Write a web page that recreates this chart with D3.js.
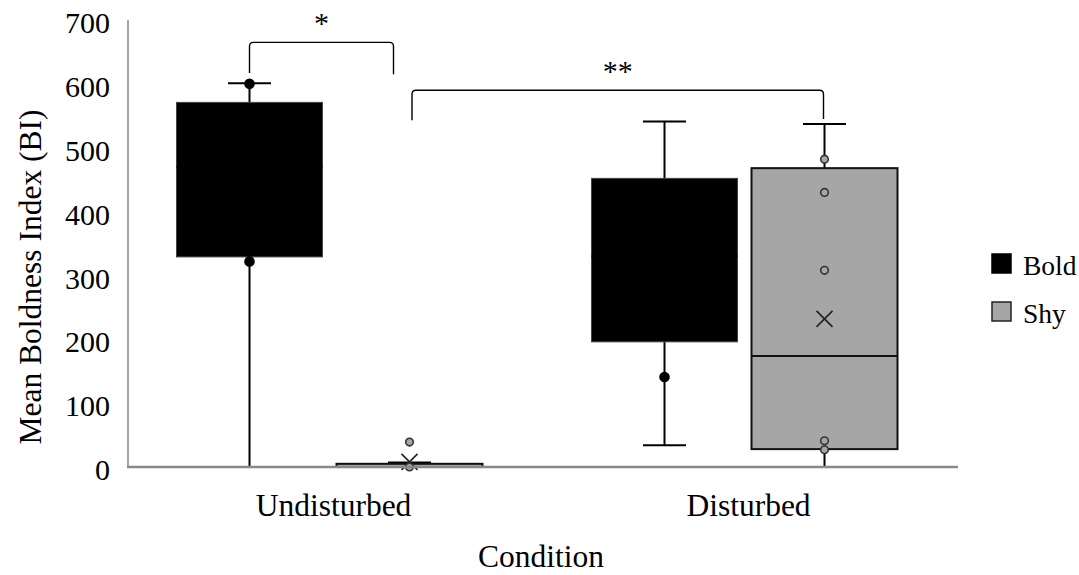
<!DOCTYPE html>
<html>
<head>
<meta charset="utf-8">
<script src="https://cdn.jsdelivr.net/npm/d3@7"></script>
<style>
  html, body { margin: 0; padding: 0; background: #fff; }
  svg { display: block; }
  svg text { font-family: "Liberation Serif", "Times New Roman", serif !important; }
</style>
</head>
<body>
<svg id="chart" width="1079" height="575"></svg>
<script>
// ---- data ----
const categories = ["Undisturbed", "Disturbed"];
const series = ["Bold", "Shy"];
const seriesColors = ["#000000", "#a6a6a6"];
const yTicks = [0, 100, 200, 300, 400, 500, 600, 700];

// box statistics per category, in category order
const boldMin    = [0, 34];
const boldQ1     = [329, 196];
const boldMedian = [470, 330];
const boldQ3     = [571, 452];
const boldMax    = [601, 541];
const boldMean   = [430, 310];
const boldPoints = [[600, 322], [141]];

const shyMin    = [0, 0];
const shyQ1     = [0, 28];
const shyMedian = [0, 174];
const shyQ3     = [5, 468];
const shyMax    = [7, 537];
const shyMean   = [8, 232];
const shyPoints = [[39, 0], [482, 430, 308, 41, 27]];

const sigLabels = ["*", "**"];

// ---- build ----
const svg = d3.select("#chart");
const y = d3.scaleLinear().domain([0, 700]).range([467, 20]);
const x0 = d3.scaleBand().domain(categories).range([122, 952]);
const x1 = d3.scaleBand().domain(series).range([-153, 153]).paddingInner(0.0875);

const stats = {
  Bold: {min: boldMin, q1: boldQ1, med: boldMedian, q3: boldQ3, max: boldMax, mean: boldMean, pts: boldPoints},
  Shy:  {min: shyMin,  q1: shyQ1,  med: shyMedian,  q3: shyQ3,  max: shyMax,  mean: shyMean,  pts: shyPoints}
};
const boxes = [];
categories.forEach((c, ci) => {
  series.forEach((s, si) => {
    const st = stats[s];
    boxes.push({cat: c, ser: s, color: seriesColors[si],
      min: st.min[ci], q1: st.q1[ci], med: st.med[ci], q3: st.q3[ci], max: st.max[ci],
      mean: st.mean[ci], pts: st.pts[ci]});
  });
});
const cx = b => x0(b.cat) + x0.bandwidth() / 2 + x1(b.ser) + x1.bandwidth() / 2;
const bw = x1.bandwidth();
const capW = 43;

const g = svg.append("g");
boxes.forEach(b => {
  const c = cx(b);
  const isBold = b.ser === "Bold";
  const gb = g.append("g");
  gb.append("line").attr("x1", c).attr("x2", c).attr("y1", y(b.max)).attr("y2", y(b.q3))
    .attr("stroke", "#000").attr("stroke-width", 2);
  gb.append("line").attr("x1", c).attr("x2", c).attr("y1", y(b.q1)).attr("y2", y(b.min))
    .attr("stroke", "#000").attr("stroke-width", 2);
  [b.max, b.min].forEach(v => {
    gb.append("line").attr("x1", c - capW / 2).attr("x2", c + capW / 2)
      .attr("y1", y(v)).attr("y2", y(v)).attr("stroke", "#000").attr("stroke-width", 2);
  });
  gb.append("rect").attr("x", c - bw / 2).attr("width", bw)
    .attr("y", y(b.q3)).attr("height", Math.max(0, y(b.q1) - y(b.q3)))
    .attr("fill", b.color)
    .attr("stroke", isBold ? "#444" : "#111").attr("stroke-width", isBold ? 1 : 2);
  gb.append("line").attr("x1", c - bw / 2).attr("x2", c + bw / 2)
    .attr("y1", y(b.med)).attr("y2", y(b.med))
    .attr("stroke", isBold ? "#000" : "#111").attr("stroke-width", 2);
  const m = 8;
  gb.append("path")
    .attr("d", `M${c - m},${y(b.mean) - m}L${c + m},${y(b.mean) + m}M${c - m},${y(b.mean) + m}L${c + m},${y(b.mean) - m}`)
    .attr("stroke", isBold ? "#000" : "#222").attr("stroke-width", 1.6).attr("fill", "none");
  gb.selectAll("circle").data(b.pts).join("circle")
    .attr("cx", c).attr("cy", d => y(d))
    .attr("r", isBold ? 4.5 : 3.8)
    .attr("fill", isBold ? "#000" : "#a6a6a6")
    .attr("stroke", isBold ? "#000" : "#333").attr("stroke-width", 1.6);
});

// axes
const yAxis = d3.axisLeft(y).tickValues(yTicks).tickSize(0).tickPadding(18);
const ya = svg.append("g").attr("transform", "translate(128,0)").call(yAxis);
ya.select(".domain").remove();
ya.selectAll("text").attr("font-size", 30).attr("fill", "#000").attr("dy", "0.42em");

svg.append("line").attr("x1", 128).attr("x2", 128).attr("y1", y(700)).attr("y2", y(0))
  .attr("stroke", "#898989").attr("stroke-width", 1.5);
svg.append("line").attr("x1", 127).attr("x2", 958).attr("y1", y(0)).attr("y2", y(0))
  .attr("stroke", "#898989").attr("stroke-width", 2.5);

const xAxis = d3.axisBottom(x0).tickSize(0);
const xa = svg.append("g").attr("transform", `translate(0,${y(0)})`).call(xAxis);
xa.select(".domain").remove();
xa.selectAll("text").attr("font-size", 31.5).attr("fill", "#000")
  .attr("y", 49).attr("dy", 0).attr("dx", 4);

// axis titles
svg.append("text").attr("x", 541).attr("y", 567).attr("text-anchor", "middle")
  .attr("font-size", 31.5).attr("fill", "#000").text("Condition");
svg.append("text").attr("transform", "translate(41,277) rotate(-90)").attr("text-anchor", "middle")
  .attr("font-size", 31.5).attr("fill", "#000").text("Mean Boldness Index (BI)");

// legend
const lg = svg.append("g");
series.forEach((s, i) => {
  const yy = 254 + i * 48;
  lg.append("rect").attr("x", 992).attr("y", yy).attr("width", 19).attr("height", 19)
    .attr("fill", seriesColors[i]).attr("stroke", i === 0 ? "#000" : "#222").attr("stroke-width", 1.5);
  lg.append("text").attr("x", 1023).attr("y", yy + 21).attr("font-size", 27.5)
    .attr("fill", "#000").text(s);
});

// significance brackets
const centreOf = (c, s) => x0(c) + x0.bandwidth() / 2 + x1(s) + x1.bandwidth() / 2;
const brackets = [
  {x1: centreOf("Undisturbed", "Bold"), x2: centreOf("Undisturbed", "Shy") - 16, top: 665, leg1: 617, leg2: 615, label: sigLabels[0]},
  {x1: centreOf("Undisturbed", "Shy") + 2.5, x2: centreOf("Disturbed", "Shy") - 1, top: 590, leg1: 543, leg2: 545, label: sigLabels[1]}
];
brackets.forEach(bk => {
  const r = 4, yt = y(bk.top);
  svg.append("path")
    .attr("d", `M${bk.x1},${y(bk.leg1)}L${bk.x1},${yt + r}Q${bk.x1},${yt} ${bk.x1 + r},${yt}L${bk.x2 - r},${yt}Q${bk.x2},${yt} ${bk.x2},${yt + r}L${bk.x2},${y(bk.leg2)}`)
    .attr("fill", "none").attr("stroke", "#000").attr("stroke-width", 1.4);
  svg.append("text").attr("x", (bk.x1 + bk.x2) / 2).attr("y", yt - 9)
    .attr("text-anchor", "middle").attr("font-size", 30).attr("fill", "#000").text(bk.label);
});
</script>
</body>
</html>
